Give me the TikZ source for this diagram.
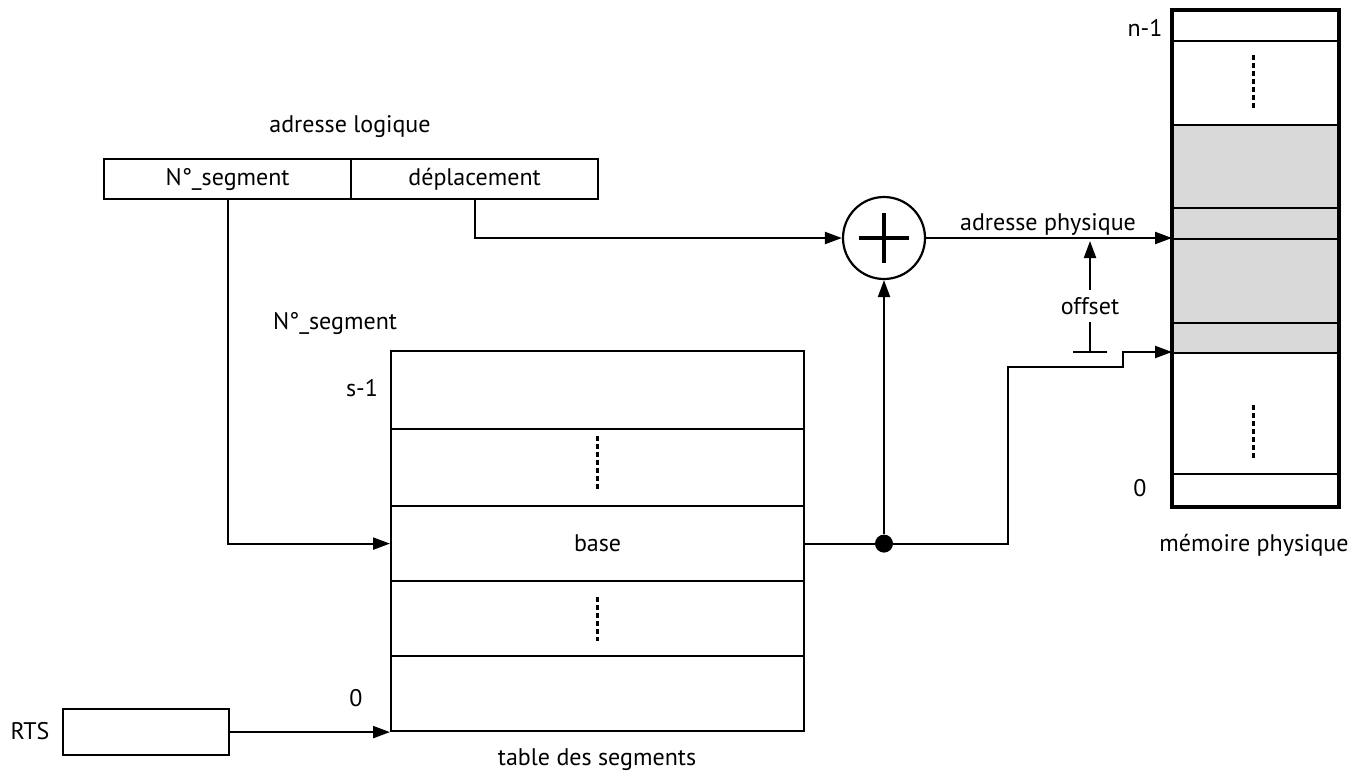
\documentclass[tikz,border=0pt]{standalone}
\usepackage{fontspec}
\setmainfont{PT Sans}
\usetikzlibrary{arrows.meta}
\definecolor{memgray}{HTML}{D9D9D9}
\begin{document}
\begin{tikzpicture}[x=1pt,y=-1pt, font=\fontsize{24}{28}\selectfont,
  cell/.style={draw, line width=2.2pt, anchor=north west, inner sep=0pt},
  conn/.style={line width=2.2pt},
  arr/.style={conn, -{Triangle[length=17pt,width=12pt]}},
  vdash/.style={line width=3pt, dash pattern=on 5pt off 3pt}]
\useasboundingbox[fill=white] (0,0) rectangle (1356,777);

% logical address
\node (al) at (350,127) {adresse logique};
\node[cell, minimum width=247pt, minimum height=40pt] (nseg) at (103,158) {N°\_segment};
\node[cell, minimum width=247pt, minimum height=40pt] (depl) at (350,158) {déplacement};

% segment table
\node (nsl) at (335,323) {N°\_segment};
\node[cell, minimum width=413pt, minimum height=78pt] (t1) at (390,350) {};
\node[cell, minimum width=413pt, minimum height=77pt] (t2) at (390,428) {};
\node[cell, minimum width=413pt, minimum height=75pt] (t3) at (390,505) {base};
\node[cell, minimum width=413pt, minimum height=75pt] (t4) at (390,580) {};
\node[cell, minimum width=413pt, minimum height=75pt] (t5) at (390,655) {};
\draw[vdash] (597,436) -- (597,490);
\draw[vdash] (597,597) -- (597,641);
\node (sm1) at (362,388) {s-1};
\node (tz) at (356,698) {0};
\node (tds) at (597,760) {table des segments};

% RTS
\node (rtsl) at (30,731) {RTS};
\node[cell, minimum width=166pt, minimum height=46pt] (rts) at (62,708) {};

% physical memory
\node[cell, minimum width=165pt, minimum height=30pt] (m1) at (1172,10) {};
\node[cell, minimum width=165pt, minimum height=84pt] (m2) at (1172,40) {};
\node[cell, fill=memgray, minimum width=165pt, minimum height=83pt] (m3) at (1172,124) {};
\node[cell, fill=memgray, minimum width=165pt, minimum height=31pt] (m4) at (1172,207) {};
\node[cell, fill=memgray, minimum width=165pt, minimum height=84pt] (m5) at (1172,238) {};
\node[cell, fill=memgray, minimum width=165pt, minimum height=30pt] (m6) at (1172,322) {};
\node[cell, minimum width=165pt, minimum height=121pt] (m7) at (1172,352) {};
\node[cell, minimum width=165pt, minimum height=32pt] (m8) at (1172,473) {};
\draw[line width=4pt] (m1.north west) rectangle (m8.south east);
\draw[vdash] (1253,55) -- (1253,108);
\draw[vdash] (1253,405) -- (1253,458);
\node (nm1) at (1145,28) {n-1};
\node (mz) at (1140,488) {0};
\node (mp) at (1254,545) {mémoire physique};

% adder
\node[draw, circle, line width=2.2pt, minimum size=82pt, inner sep=0pt] (plus) at (884,238) {};
\draw[line width=4pt] ([xshift=-25pt]plus.center) -- ([xshift=25pt]plus.center);
\draw[line width=4pt] ([yshift=-25pt]plus.center) -- ([yshift=25pt]plus.center);
\node[circle, fill, minimum size=18pt, inner sep=0pt] (dot) at (plus |- t3.east) {};

% connectors
\draw[arr] (nseg.south) |- (t3.west);
\draw[arr] (depl.south) |- (plus.west);
\draw[conn] (t3.east) -- (dot);
\draw[arr] (dot) -- (plus.south);
\draw[arr] (plus.east) -- (m5.north west);
\node[above, inner sep=2pt] (ap) at (1048,238) {adresse physique};
\coordinate (s1) at (1008,367);
\coordinate (s2) at (1123,352);
\draw[arr] (dot) -| (s1) -| (s2) -- (m7.north west);
\draw[arr] (rts.east) -- (rts.east -| t5.west);

% offset
\node[inner sep=7pt] (off) at (1090,306) {offset};
\coordinate (ob) at (1090,352);
\coordinate (oa) at (1090,241);
\draw[arr] (off.north) -- (oa);
\draw[conn] (off.south) -- (ob);
\draw[conn] ([xshift=-17pt]ob) -- ([xshift=17pt]ob);
\end{tikzpicture}
\end{document}
